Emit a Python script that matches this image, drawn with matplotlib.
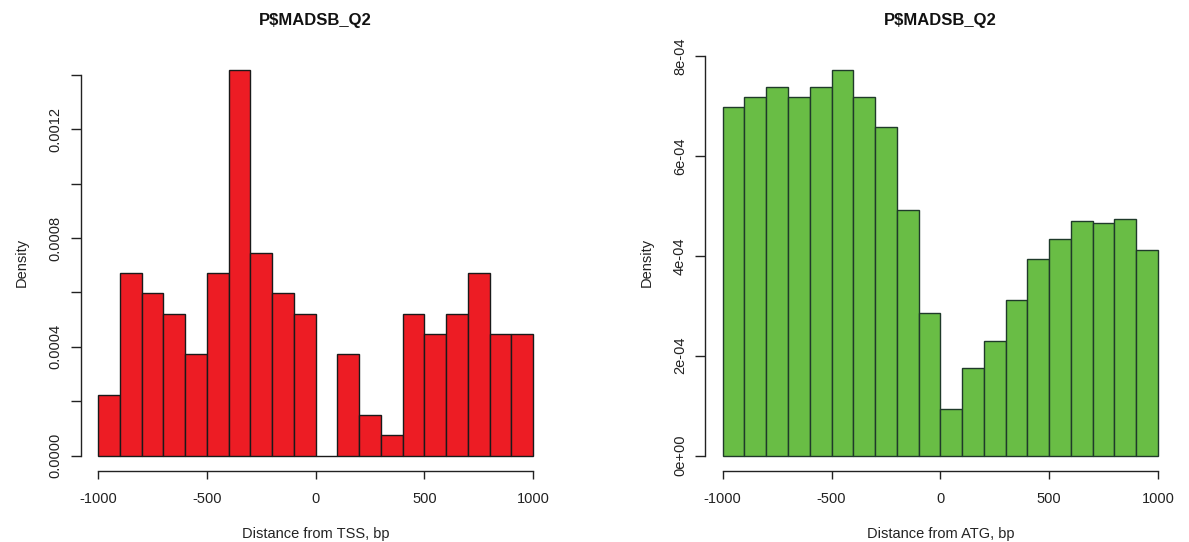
import numpy as np
import matplotlib
matplotlib.use("Agg")
import matplotlib.pyplot as plt

plt.rcParams['font.family'] = ['Liberation Sans', 'DejaVu Sans']

# ---- data ----
bin_edges = list(range(-1000, 1001, 100))
tss_density = [0.000224, 0.000672, 0.000597, 0.000522, 0.000373, 0.000672,
               0.001418, 0.000746, 0.000597, 0.000522, 0.0, 0.000373,
               0.000149, 0.0000746, 0.000522, 0.000448, 0.000522, 0.000672,
               0.000448, 0.000448]
atg_density = [6.975e-4, 7.18e-4, 7.38e-4, 7.18e-4, 7.38e-4, 7.72e-4,
               7.18e-4, 6.59e-4, 4.91e-4, 2.855e-4, 0.935e-4, 1.747e-4,
               2.304e-4, 3.109e-4, 3.935e-4, 4.334e-4, 4.698e-4, 4.65e-4,
               4.739e-4, 4.127e-4]
x_ticks = [-1000, -500, 0, 500, 1000]
x_tick_labels = ["-1000", "-500", "0", "500", "1000"]
tss_yticks = [0.0, 0.0002, 0.0004, 0.0006, 0.0008, 0.0010, 0.0012, 0.0014]
tss_ylabels = ["0.0000", "", "0.0004", "", "0.0008", "", "0.0012", ""]
atg_yticks = [0.0, 2e-4, 4e-4, 6e-4, 8e-4]
atg_ylabels = ["0e+00", "2e-04", "4e-04", "6e-04", "8e-04"]
title = "P$MADSB_Q2"
xlabels = ["Distance from TSS, bp", "Distance from ATG, bp"]

W, H = 1189, 542
fig = plt.figure(figsize=(W / 100, H / 100), dpi=100)

def panel(left_px, vals, yticks, ylabels, color, edge, xlabel):
    ax = fig.add_axes([left_px / W, (H - 471) / H, 470 / W, 416.3 / H])
    edges = np.array(bin_edges)
    widths = np.diff(edges)
    ax.bar(edges[:-1], vals, width=widths, align='edge', color=color,
           edgecolor=edge, linewidth=1.0)
    vmax = max(vals)
    ax.set_xlim(-1080, 1080)
    ax.set_ylim(-0.04 * vmax, 1.04 * vmax)
    for s in ("top", "right"):
        ax.spines[s].set_visible(False)
    ax.spines["left"].set_bounds(yticks[0], yticks[-1])
    ax.spines["bottom"].set_bounds(-1000, 1000)
    for s in ("left", "bottom"):
        ax.spines[s].set_linewidth(1.0)
        ax.spines[s].set_color("#222222")
    ax.set_xticks(x_ticks)
    ax.set_xticklabels(x_tick_labels, fontsize=10.5, color="#222222")
    ax.set_yticks(yticks)
    ax.set_yticklabels(ylabels, fontsize=10.5, rotation=90, va="center",
                       color="#222222")
    ax.tick_params(axis="x", length=5.4, width=1.0, pad=10, color="#222222")
    ax.tick_params(axis="y", length=7.2, width=1.0, pad=6, color="#222222")
    ax.set_xlabel(xlabel, fontsize=10.5, labelpad=15, color="#222222")
    ax.set_ylabel("Density", fontsize=10.5, labelpad=14, color="#222222")
    ax.patch.set_alpha(0)
    cx = (left_px + 470 / 2) / W
    fig.text(cx, 1 - 21 / H, title, fontsize=12, fontweight="bold",
             ha="center", va="center", color="#111111")
    return ax

panel(80.6, tss_density, tss_yticks, tss_ylabels, "#ED1C24", "#1a1a1a", xlabels[0])
panel(705.3, atg_density, atg_yticks, atg_ylabels, "#69BD45", "#1f3a2a", xlabels[1])

fig.savefig("out.png", dpi=100, facecolor="white")
